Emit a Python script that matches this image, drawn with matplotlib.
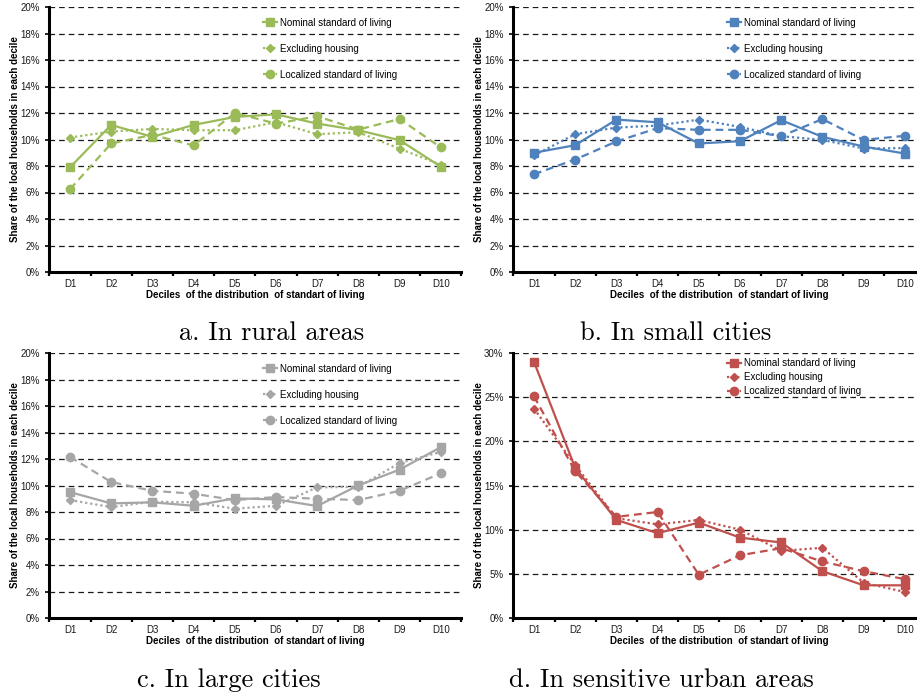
import matplotlib
matplotlib.use("Agg")
import matplotlib.pyplot as plt
from matplotlib.ticker import FixedLocator, FuncFormatter

plt.rcParams['font.family'] = ['Liberation Sans', 'DejaVu Sans']

DECILES = ["D1", "D2", "D3", "D4", "D5", "D6", "D7", "D8", "D9", "D10"]
SERIES_NAMES = ["Nominal standard of living", "Excluding housing",
                "Localized standard of living"]

# share of local households per decile, in %
RURAL_NOMINAL = [7.9, 11.1, 10.2, 11.1, 11.7, 11.9, 11.2, 10.7, 9.95, 7.95]
RURAL_EXCL = [10.15, 10.6, 10.8, 10.7, 10.7, 11.3, 10.4, 10.55, 9.3, 8.1]
RURAL_LOCAL = [6.25, 9.7, 10.35, 9.55, 12.0, 11.2, 11.75, 10.75, 11.55, 9.4]

SMALL_NOMINAL = [9.0, 9.57, 11.5, 11.3, 9.7, 9.87, 11.46, 10.2, 9.47, 8.94]
SMALL_EXCL = [8.8, 10.4, 10.9, 11.05, 11.5, 10.95, 10.25, 9.97, 9.32, 9.35]
SMALL_LOCAL = [7.38, 8.49, 9.85, 10.86, 10.73, 10.73, 10.25, 11.54, 9.97, 10.28]

LARGE_NOMINAL = [9.5, 8.65, 8.73, 8.47, 9.03, 8.95, 8.45, 10.01, 11.2, 12.89]
LARGE_EXCL = [8.9, 8.37, 8.78, 8.73, 8.25, 8.47, 9.86, 9.9, 11.7, 12.53]
LARGE_LOCAL = [12.16, 10.26, 9.6, 9.38, 8.9, 9.13, 9.0, 8.9, 9.6, 10.92]

SENS_NOMINAL = [29.0, 17.0, 11.1, 9.6, 10.8, 9.1, 8.55, 5.3, 3.7, 3.7]
SENS_EXCL = [23.7, 17.3, 11.3, 10.6, 11.1, 10.0, 7.6, 7.95, 4.0, 2.95]
SENS_LOCAL = [25.1, 16.6, 11.45, 12.0, 4.9, 7.1, 7.9, 6.4, 5.3, 4.4]

CAPTIONS = ["a. In rural areas", "b. In small cities",
            "c. In large cities", "d. In sensitive urban areas"]

GREEN = "#9bbb59"
BLUE = "#4f81bd"
GREY = "#a6a6a6"
RED = "#c0504d"

fig = plt.figure(figsize=(9.17, 6.96), dpi=100)

W = 412 / 917
H = 265 / 696
boxes = [(49.4 / 917, 1 - 272 / 696), (513.4 / 917, 1 - 272 / 696),
         (49.4 / 917, 1 - 618 / 696), (513.4 / 917, 1 - 618 / 696)]


def panel(box, nominal, excl, local, color, ymax, ystep, leg_y, leg_space):
    ax = fig.add_axes([box[0], box[1], W, H])
    x = list(range(len(DECILES)))
    ax.plot(x, nominal, color=color, lw=1.6, ls='-', marker='s', ms=5.5,
            label=SERIES_NAMES[0], zorder=3)
    ax.plot(x, excl, color=color, lw=1.6, ls=(0, (1, 1.3)), marker='D',
            ms=4.4, label=SERIES_NAMES[1], zorder=3)
    ax.plot(x, local, color=color, lw=1.6, ls=(0, (3.5, 2.2)), marker='o',
            ms=6, label=SERIES_NAMES[2], zorder=3)

    ax.set_xlim(-0.5, len(DECILES) - 0.5)
    ax.set_ylim(0, ymax)
    ax.set_xticks(x)
    ax.set_xticklabels(DECILES)
    ax.xaxis.set_minor_locator(FixedLocator([i - 0.5 for i in range(len(DECILES) + 1)]))
    ax.tick_params(axis='x', which='major', length=0, pad=5, labelsize=7,
                   labelcolor='#1a1a1a')
    ax.tick_params(axis='x', which='minor', length=3, width=1.6, direction='out',
                   color='black')

    yt = list(range(0, ymax + 1, ystep))
    ax.set_yticks(yt)
    ax.yaxis.set_major_formatter(FuncFormatter(lambda v, p: "%d%%" % v))
    ax.tick_params(axis='y', length=3, width=1.2, direction='out', pad=4,
                   labelsize=7, labelcolor='#1a1a1a')

    for v in yt[1:]:
        ax.axhline(v, color='#1a1a1a', lw=0.9, ls=(0, (4.5, 3.2)), zorder=1)

    for s in ['top', 'right']:
        ax.spines[s].set_visible(False)
    for s in ['left', 'bottom']:
        ax.spines[s].set_linewidth(2.2)
        ax.spines[s].set_zorder(4)

    ax.set_xlabel("Deciles  of the distribution  of standart of living",
                  fontsize=7, fontweight='bold', labelpad=1)
    ax.set_ylabel("Share of the local households in each decile",
                  fontsize=7, fontweight='bold', labelpad=0)

    ax.legend(loc='upper left', bbox_to_anchor=(0.518, leg_y), frameon=False,
              fontsize=7, handlelength=1.5, handletextpad=0.3,
              labelspacing=leg_space, borderpad=0, borderaxespad=0)
    return ax


panel(boxes[0], RURAL_NOMINAL, RURAL_EXCL, RURAL_LOCAL, GREEN, 20, 2, 0.96, 1.65)
panel(boxes[1], SMALL_NOMINAL, SMALL_EXCL, SMALL_LOCAL, BLUE, 20, 2, 0.96, 1.65)
panel(boxes[2], LARGE_NOMINAL, LARGE_EXCL, LARGE_LOCAL, GREY, 20, 2, 0.96, 1.65)
panel(boxes[3], SENS_NOMINAL, SENS_EXCL, SENS_LOCAL, RED, 30, 5, 0.98, 0.4)

caption_pos = [(272, 333), (676, 333), (229, 680), (661, 680)]
for (cx, cy), text in zip(caption_pos, CAPTIONS):
    fig.text(cx / 917, 1 - cy / 696, text, family='cmr10', fontsize=19,
             ha='center', va='center')

fig.savefig("out.png", dpi=100)
